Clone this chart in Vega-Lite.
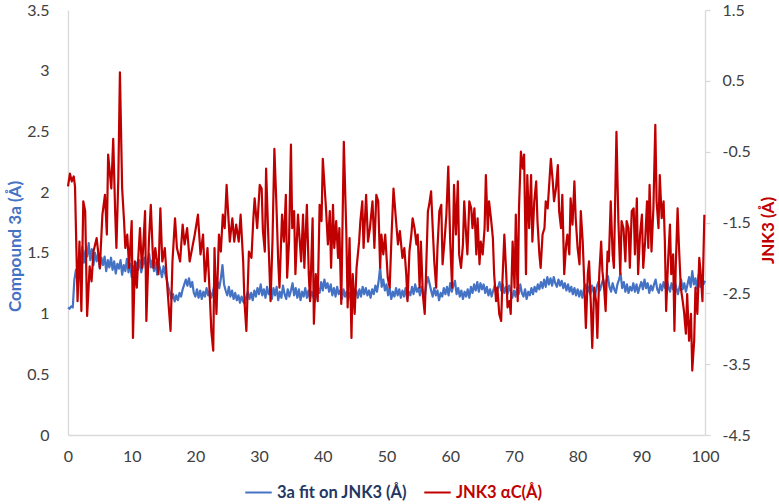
{
  "$schema": "https://vega.github.io/schema/vega-lite/v6.json",
  "width": 637,
  "height": 425,
  "autosize": {"type": "none"},
  "padding": {"left": 68, "top": 10, "right": 74, "bottom": 69},
  "background": "white",
  "config": {
    "view": {"stroke": null},
    "font": "Lato",
    "axis": {"grid": false, "domainColor": "#D9D9D9", "domainWidth": 1.3, "labelColor": "#404040", "labelFontSize": 16, "labelFont": "Lato", "titleFont": "Lato", "ticks": false}
  },
  "datasets": {
    "blue": [
      {"t":0,"v":1.05},{"t":0.25,"v":1.04},{"t":0.5,"v":1.06},{"t":0.75,"v":1.05},
      {"t":1,"v":1.28},{"t":1.25,"v":1.36},{"t":1.5,"v":1.26},{"t":1.75,"v":1.4},
      {"t":2,"v":1.46},{"t":2.25,"v":1.55},{"t":2.5,"v":1.42},{"t":2.75,"v":1.52},
      {"t":3,"v":1.47},{"t":3.25,"v":1.58},{"t":3.5,"v":1.44},{"t":3.75,"v":1.53},
      {"t":4,"v":1.4},{"t":4.25,"v":1.5},{"t":4.5,"v":1.43},{"t":4.75,"v":1.49},
      {"t":5,"v":1.37},{"t":5.25,"v":1.46},{"t":5.5,"v":1.4},{"t":5.75,"v":1.47},
      {"t":6,"v":1.35},{"t":6.25,"v":1.44},{"t":6.5,"v":1.38},{"t":6.75,"v":1.46},
      {"t":7,"v":1.36},{"t":7.25,"v":1.43},{"t":7.5,"v":1.33},{"t":7.75,"v":1.41},
      {"t":8,"v":1.37},{"t":8.25,"v":1.44},{"t":8.5,"v":1.32},{"t":8.75,"v":1.4},
      {"t":9,"v":1.35},{"t":9.25,"v":1.45},{"t":9.5,"v":1.34},{"t":9.75,"v":1.41},
      {"t":10,"v":1.3},{"t":10.25,"v":1.39},{"t":10.5,"v":1.33},{"t":10.75,"v":1.42},
      {"t":11,"v":1.36},{"t":11.25,"v":1.44},{"t":11.5,"v":1.34},{"t":11.75,"v":1.4},
      {"t":12,"v":1.46},{"t":12.25,"v":1.37},{"t":12.5,"v":1.43},{"t":12.75,"v":1.49},
      {"t":13,"v":1.38},{"t":13.25,"v":1.44},{"t":13.5,"v":1.35},{"t":13.75,"v":1.42},
      {"t":14,"v":1.32},{"t":14.25,"v":1.41},{"t":14.5,"v":1.36},{"t":14.75,"v":1.3},
      {"t":15,"v":1.39},{"t":15.25,"v":1.33},{"t":15.5,"v":1.28},{"t":15.75,"v":1.22},
      {"t":16,"v":1.17},{"t":16.25,"v":1.12},{"t":16.5,"v":1.16},{"t":16.75,"v":1.1},
      {"t":17,"v":1.15},{"t":17.25,"v":1.11},{"t":17.5,"v":1.17},{"t":17.75,"v":1.14},
      {"t":18,"v":1.2},{"t":18.25,"v":1.24},{"t":18.5,"v":1.28},{"t":18.75,"v":1.23},
      {"t":19,"v":1.29},{"t":19.25,"v":1.22},{"t":19.5,"v":1.26},{"t":19.75,"v":1.17},
      {"t":20,"v":1.14},{"t":20.25,"v":1.2},{"t":20.5,"v":1.13},{"t":20.75,"v":1.19},
      {"t":21,"v":1.12},{"t":21.25,"v":1.18},{"t":21.5,"v":1.14},{"t":21.75,"v":1.21},
      {"t":22,"v":1.15},{"t":22.25,"v":1.19},{"t":22.5,"v":1.13},{"t":22.75,"v":1.18},
      {"t":23,"v":1.24},{"t":23.25,"v":1.19},{"t":23.5,"v":1.26},{"t":23.75,"v":1.21},
      {"t":24,"v":1.29},{"t":24.25,"v":1.4},{"t":24.5,"v":1.24},{"t":24.75,"v":1.19},
      {"t":25,"v":1.15},{"t":25.25,"v":1.22},{"t":25.5,"v":1.14},{"t":25.75,"v":1.19},
      {"t":26,"v":1.12},{"t":26.25,"v":1.17},{"t":26.5,"v":1.11},{"t":26.75,"v":1.15},
      {"t":27,"v":1.09},{"t":27.25,"v":1.14},{"t":27.5,"v":1.1},{"t":27.75,"v":1.08},
      {"t":28,"v":1.14},{"t":28.25,"v":1.18},{"t":28.5,"v":1.12},{"t":28.75,"v":1.17},
      {"t":29,"v":1.11},{"t":29.25,"v":1.19},{"t":29.5,"v":1.14},{"t":29.75,"v":1.21},
      {"t":30,"v":1.16},{"t":30.25,"v":1.24},{"t":30.5,"v":1.15},{"t":30.75,"v":1.2},
      {"t":31,"v":1.13},{"t":31.25,"v":1.22},{"t":31.5,"v":1.16},{"t":31.75,"v":1.19},
      {"t":32,"v":1.12},{"t":32.25,"v":1.21},{"t":32.5,"v":1.15},{"t":32.75,"v":1.22},
      {"t":33,"v":1.11},{"t":33.25,"v":1.18},{"t":33.5,"v":1.13},{"t":33.75,"v":1.23},
      {"t":34,"v":1.16},{"t":34.25,"v":1.12},{"t":34.5,"v":1.2},{"t":34.75,"v":1.14},
      {"t":35,"v":1.19},{"t":35.25,"v":1.25},{"t":35.5,"v":1.15},{"t":35.75,"v":1.21},
      {"t":36,"v":1.13},{"t":36.25,"v":1.2},{"t":36.5,"v":1.11},{"t":36.75,"v":1.18},
      {"t":37,"v":1.14},{"t":37.25,"v":1.21},{"t":37.5,"v":1.13},{"t":37.75,"v":1.19},
      {"t":38,"v":1.12},{"t":38.25,"v":1.18},{"t":38.5,"v":1.14},{"t":38.75,"v":1.1},
      {"t":39,"v":1.16},{"t":39.25,"v":1.21},{"t":39.5,"v":1.17},{"t":39.75,"v":1.26},
      {"t":40,"v":1.19},{"t":40.25,"v":1.28},{"t":40.5,"v":1.21},{"t":40.75,"v":1.25},
      {"t":41,"v":1.18},{"t":41.25,"v":1.24},{"t":41.5,"v":1.15},{"t":41.75,"v":1.21},
      {"t":42,"v":1.14},{"t":42.25,"v":1.22},{"t":42.5,"v":1.16},{"t":42.75,"v":1.19},
      {"t":43,"v":1.12},{"t":43.25,"v":1.2},{"t":43.5,"v":1.14},{"t":43.75,"v":1.18},
      {"t":44,"v":1.11},{"t":44.25,"v":1.17},{"t":44.5,"v":1.13},{"t":44.75,"v":1.21},
      {"t":45,"v":1.15},{"t":45.25,"v":1.19},{"t":45.5,"v":1.13},{"t":45.75,"v":1.2},
      {"t":46,"v":1.14},{"t":46.25,"v":1.22},{"t":46.5,"v":1.16},{"t":46.75,"v":1.21},
      {"t":47,"v":1.15},{"t":47.25,"v":1.19},{"t":47.5,"v":1.13},{"t":47.75,"v":1.2},
      {"t":48,"v":1.16},{"t":48.25,"v":1.23},{"t":48.5,"v":1.18},{"t":48.75,"v":1.26},
      {"t":49,"v":1.38},{"t":49.25,"v":1.22},{"t":49.5,"v":1.28},{"t":49.75,"v":1.19},
      {"t":50,"v":1.24},{"t":50.25,"v":1.15},{"t":50.5,"v":1.21},{"t":50.75,"v":1.12},
      {"t":51,"v":1.18},{"t":51.25,"v":1.14},{"t":51.5,"v":1.21},{"t":51.75,"v":1.15},
      {"t":52,"v":1.2},{"t":52.25,"v":1.13},{"t":52.5,"v":1.19},{"t":52.75,"v":1.14},
      {"t":53,"v":1.21},{"t":53.25,"v":1.12},{"t":53.5,"v":1.18},{"t":53.75,"v":1.15},
      {"t":54,"v":1.22},{"t":54.25,"v":1.16},{"t":54.5,"v":1.24},{"t":54.75,"v":1.18},
      {"t":55,"v":1.21},{"t":55.25,"v":1.15},{"t":55.5,"v":1.22},{"t":55.75,"v":1.17},
      {"t":56,"v":1.14},{"t":56.25,"v":1.24},{"t":56.5,"v":1.3},{"t":56.75,"v":1.25},
      {"t":57,"v":1.19},{"t":57.25,"v":1.14},{"t":57.5,"v":1.21},{"t":57.75,"v":1.15},
      {"t":58,"v":1.19},{"t":58.25,"v":1.11},{"t":58.5,"v":1.17},{"t":58.75,"v":1.14},
      {"t":59,"v":1.21},{"t":59.25,"v":1.16},{"t":59.5,"v":1.22},{"t":59.75,"v":1.15},
      {"t":60,"v":1.25},{"t":60.25,"v":1.18},{"t":60.5,"v":1.23},{"t":60.75,"v":1.27},
      {"t":61,"v":1.16},{"t":61.25,"v":1.21},{"t":61.5,"v":1.14},{"t":61.75,"v":1.19},
      {"t":62,"v":1.12},{"t":62.25,"v":1.18},{"t":62.5,"v":1.14},{"t":62.75,"v":1.2},
      {"t":63,"v":1.13},{"t":63.25,"v":1.22},{"t":63.5,"v":1.17},{"t":63.75,"v":1.24},
      {"t":64,"v":1.19},{"t":64.25,"v":1.26},{"t":64.5,"v":1.18},{"t":64.75,"v":1.25},
      {"t":65,"v":1.2},{"t":65.25,"v":1.24},{"t":65.5,"v":1.17},{"t":65.75,"v":1.22},
      {"t":66,"v":1.15},{"t":66.25,"v":1.2},{"t":66.5,"v":1.14},{"t":66.75,"v":1.19},
      {"t":67,"v":1.23},{"t":67.25,"v":1.16},{"t":67.5,"v":1.21},{"t":67.75,"v":1.26},
      {"t":68,"v":1.19},{"t":68.25,"v":1.24},{"t":68.5,"v":1.17},{"t":68.75,"v":1.22},
      {"t":69,"v":1.16},{"t":69.25,"v":1.23},{"t":69.5,"v":1.18},{"t":69.75,"v":1.13},
      {"t":70,"v":1.19},{"t":70.25,"v":1.14},{"t":70.5,"v":1.21},{"t":70.75,"v":1.16},
      {"t":71,"v":1.24},{"t":71.25,"v":1.17},{"t":71.5,"v":1.14},{"t":71.75,"v":1.2},
      {"t":72,"v":1.12},{"t":72.25,"v":1.18},{"t":72.5,"v":1.15},{"t":72.75,"v":1.21},
      {"t":73,"v":1.16},{"t":73.25,"v":1.22},{"t":73.5,"v":1.18},{"t":73.75,"v":1.24},
      {"t":74,"v":1.2},{"t":74.25,"v":1.26},{"t":74.5,"v":1.21},{"t":74.75,"v":1.28},
      {"t":75,"v":1.22},{"t":75.25,"v":1.3},{"t":75.5,"v":1.24},{"t":75.75,"v":1.29},
      {"t":76,"v":1.23},{"t":76.25,"v":1.3},{"t":76.5,"v":1.25},{"t":76.75,"v":1.22},
      {"t":77,"v":1.28},{"t":77.25,"v":1.23},{"t":77.5,"v":1.27},{"t":77.75,"v":1.21},
      {"t":78,"v":1.25},{"t":78.25,"v":1.19},{"t":78.5,"v":1.24},{"t":78.75,"v":1.18},
      {"t":79,"v":1.22},{"t":79.25,"v":1.16},{"t":79.5,"v":1.21},{"t":79.75,"v":1.15},
      {"t":80,"v":1.2},{"t":80.25,"v":1.14},{"t":80.5,"v":1.19},{"t":80.75,"v":1.13},
      {"t":81,"v":1.2},{"t":81.25,"v":1.24},{"t":81.5,"v":1.17},{"t":81.75,"v":1.22},
      {"t":82,"v":1.16},{"t":82.25,"v":1.23},{"t":82.5,"v":1.18},{"t":82.75,"v":1.15},
      {"t":83,"v":1.22},{"t":83.25,"v":1.26},{"t":83.5,"v":1.19},{"t":83.75,"v":1.24},
      {"t":84,"v":1.28},{"t":84.25,"v":1.21},{"t":84.5,"v":1.27},{"t":84.75,"v":1.31},
      {"t":85,"v":1.22},{"t":85.25,"v":1.18},{"t":85.5,"v":1.25},{"t":85.75,"v":1.2},
      {"t":86,"v":1.17},{"t":86.25,"v":1.24},{"t":86.5,"v":1.28},{"t":86.75,"v":1.33},
      {"t":87,"v":1.21},{"t":87.25,"v":1.26},{"t":87.5,"v":1.18},{"t":87.75,"v":1.24},
      {"t":88,"v":1.17},{"t":88.25,"v":1.22},{"t":88.5,"v":1.19},{"t":88.75,"v":1.25},
      {"t":89,"v":1.18},{"t":89.25,"v":1.24},{"t":89.5,"v":1.17},{"t":89.75,"v":1.22},
      {"t":90,"v":1.26},{"t":90.25,"v":1.2},{"t":90.5,"v":1.28},{"t":90.75,"v":1.21},
      {"t":91,"v":1.25},{"t":91.25,"v":1.17},{"t":91.5,"v":1.23},{"t":91.75,"v":1.19},
      {"t":92,"v":1.24},{"t":92.25,"v":1.28},{"t":92.5,"v":1.2},{"t":92.75,"v":1.17},
      {"t":93,"v":1.24},{"t":93.25,"v":1.19},{"t":93.5,"v":1.26},{"t":93.75,"v":1.21},
      {"t":94,"v":1.28},{"t":94.25,"v":1.22},{"t":94.5,"v":1.18},{"t":94.75,"v":1.25},
      {"t":95,"v":1.2},{"t":95.25,"v":1.27},{"t":95.5,"v":1.21},{"t":95.75,"v":1.16},
      {"t":96,"v":1.22},{"t":96.25,"v":1.28},{"t":96.5,"v":1.2},{"t":96.75,"v":1.25},
      {"t":97,"v":1.18},{"t":97.25,"v":1.24},{"t":97.5,"v":1.3},{"t":97.75,"v":1.22},
      {"t":98,"v":1.35},{"t":98.25,"v":1.24},{"t":98.5,"v":1.29},{"t":98.75,"v":1.2},
      {"t":99,"v":1.32},{"t":99.25,"v":1.22},{"t":99.5,"v":1.3},{"t":99.75,"v":1.24},
      {"t":100,"v":1.27}
    ],
    "red": [
      {"t":0,"v":-0.99},{"t":0.3,"v":-0.81},{"t":0.6,"v":-0.92},{"t":0.9,"v":-0.85},{"t":1.1,"v":-0.99},{"t":1.5,"v":-2.61},{"t":1.8,"v":-1.77},{"t":2.1,"v":-2.75},{"t":2.4,"v":-1.2},{"t":2.7,"v":-1.34},{"t":3.0,"v":-2.82},{"t":3.4,"v":-2.12},{"t":3.7,"v":-2.33},{"t":4.0,"v":-1.91},{"t":4.5,"v":-1.72},{"t":5.0,"v":-2.14},{"t":5.4,"v":-1.39},{"t":5.8,"v":-1.11},{"t":6.1,"v":-1.67},{"t":6.3,"v":-0.54},{"t":6.6,"v":-0.83},{"t":6.8,"v":-1.02},{"t":7.1,"v":-0.32},{"t":7.4,"v":-1.34},{"t":7.6,"v":-1.86},{"t":7.9,"v":-0.88},{"t":8.15,"v":0.62},{"t":8.5,"v":-1.02},{"t":8.8,"v":-1.48},{"t":9.0,"v":-1.86},{"t":9.3,"v":-1.67},{"t":9.6,"v":-2.14},{"t":10.0,"v":-1.48},{"t":10.2,"v":-3.13},{"t":10.5,"v":-2.05},{"t":10.8,"v":-2.42},{"t":11.0,"v":-2.05},{"t":11.3,"v":-1.58},{"t":11.6,"v":-2.14},{"t":11.8,"v":-1.86},{"t":12.1,"v":-1.34},{"t":12.3,"v":-2.89},{"t":12.7,"v":-1.77},{"t":13.0,"v":-1.25},{"t":13.4,"v":-2.14},{"t":13.7,"v":-1.86},{"t":14.2,"v":-2.23},{"t":14.5,"v":-1.3},{"t":14.8,"v":-2.05},{"t":15.2,"v":-1.86},{"t":15.6,"v":-2.42},{"t":15.9,"v":-2.79},{"t":16.1,"v":-3.03},{"t":16.4,"v":-2.05},{"t":16.8,"v":-1.44},{"t":17.1,"v":-1.86},{"t":17.6,"v":-2.05},{"t":18.0,"v":-1.53},{"t":18.3,"v":-1.81},{"t":18.7,"v":-1.58},{"t":19.1,"v":-2.05},{"t":19.5,"v":-1.86},{"t":19.9,"v":-1.67},{"t":20.4,"v":-1.39},{"t":20.8,"v":-1.95},{"t":21.2,"v":-1.67},{"t":21.5,"v":-2.33},{"t":21.9,"v":-1.86},{"t":22.3,"v":-2.61},{"t":22.5,"v":-3.03},{"t":22.8,"v":-3.31},{"t":23.0,"v":-1.86},{"t":23.3,"v":-2.79},{"t":23.7,"v":-1.67},{"t":24.0,"v":-1.91},{"t":24.3,"v":-1.39},{"t":24.6,"v":-1.58},{"t":24.9,"v":-0.97},{"t":25.1,"v":-1.3},{"t":25.4,"v":-1.77},{"t":25.8,"v":-1.44},{"t":26.1,"v":-1.77},{"t":26.4,"v":-1.53},{"t":26.8,"v":-1.77},{"t":27.1,"v":-1.39},{"t":27.5,"v":-2.05},{"t":27.7,"v":-2.61},{"t":28.0,"v":-3.03},{"t":28.4,"v":-1.91},{"t":28.8,"v":-2.0},{"t":29.1,"v":-1.44},{"t":29.3,"v":-1.16},{"t":29.7,"v":-1.58},{"t":30.1,"v":-0.97},{"t":30.4,"v":-1.02},{"t":30.6,"v":-1.62},{"t":30.9,"v":-1.91},{"t":31.1,"v":-0.74},{"t":31.4,"v":-1.58},{"t":31.8,"v":-2.61},{"t":32.1,"v":-1.77},{"t":32.4,"v":-0.46},{"t":32.7,"v":-1.2},{"t":33.0,"v":-2.05},{"t":33.2,"v":-2.42},{"t":33.6,"v":-1.39},{"t":33.9,"v":-1.77},{"t":34.2,"v":-1.11},{"t":34.4,"v":-2.28},{"t":34.7,"v":-1.77},{"t":35.0,"v":-0.4},{"t":35.2,"v":-1.58},{"t":35.5,"v":-1.34},{"t":35.7,"v":-2.23},{"t":36.1,"v":-1.39},{"t":36.6,"v":-2.05},{"t":36.9,"v":-1.39},{"t":37.1,"v":-2.14},{"t":37.5,"v":-1.25},{"t":37.8,"v":-2.23},{"t":38.0,"v":-2.61},{"t":38.4,"v":-1.44},{"t":38.6,"v":-2.93},{"t":38.9,"v":-2.23},{"t":39.2,"v":-2.61},{"t":39.5,"v":-1.25},{"t":39.8,"v":-1.48},{"t":40.0,"v":-0.6},{"t":40.3,"v":-1.02},{"t":40.5,"v":-1.3},{"t":40.8,"v":-1.81},{"t":41.1,"v":-1.34},{"t":41.3,"v":-2.14},{"t":41.6,"v":-1.25},{"t":41.8,"v":-1.86},{"t":42.1,"v":-1.48},{"t":42.4,"v":-2.0},{"t":42.6,"v":-1.58},{"t":42.9,"v":-2.65},{"t":43.3,"v":-0.36},{"t":43.7,"v":-1.67},{"t":43.9,"v":-2.7},{"t":44.2,"v":-1.72},{"t":44.5,"v":-3.13},{"t":44.7,"v":-2.23},{"t":45.0,"v":-2.79},{"t":45.3,"v":-2.14},{"t":45.7,"v":-1.77},{"t":45.9,"v":-1.48},{"t":46.2,"v":-1.2},{"t":46.4,"v":-1.86},{"t":46.8,"v":-1.11},{"t":47.1,"v":-1.77},{"t":47.4,"v":-1.58},{"t":47.8,"v":-1.2},{"t":48.1,"v":-1.86},{"t":48.4,"v":-1.11},{"t":48.7,"v":-1.2},{"t":49.0,"v":-2.14},{"t":49.2,"v":-1.67},{"t":49.5,"v":-1.95},{"t":49.8,"v":-1.67},{"t":50.2,"v":-2.28},{"t":50.5,"v":-2.42},{"t":50.8,"v":-1.67},{"t":51.1,"v":-1.02},{"t":51.5,"v":-1.48},{"t":51.8,"v":-1.81},{"t":52.1,"v":-1.62},{"t":52.5,"v":-2.0},{"t":52.8,"v":-1.86},{"t":53.1,"v":-2.23},{"t":53.3,"v":-2.61},{"t":53.6,"v":-1.91},{"t":53.9,"v":-1.67},{"t":54.1,"v":-1.44},{"t":54.4,"v":-1.58},{"t":54.7,"v":-1.81},{"t":54.9,"v":-1.67},{"t":55.2,"v":-2.42},{"t":55.4,"v":-1.77},{"t":55.7,"v":-2.51},{"t":56.0,"v":-2.79},{"t":56.2,"v":-2.23},{"t":56.5,"v":-1.34},{"t":56.7,"v":-1.25},{"t":57.0,"v":-1.06},{"t":57.3,"v":-1.67},{"t":57.5,"v":-2.05},{"t":57.8,"v":-2.42},{"t":58.0,"v":-1.86},{"t":58.3,"v":-1.34},{"t":58.6,"v":-1.25},{"t":58.8,"v":-2.09},{"t":59.1,"v":-1.77},{"t":59.4,"v":-1.39},{"t":59.7,"v":-0.71},{"t":60.0,"v":-1.77},{"t":60.3,"v":-2.42},{"t":60.6,"v":-0.97},{"t":60.9,"v":-1.67},{"t":61.2,"v":-0.92},{"t":61.4,"v":-1.95},{"t":61.7,"v":-2.14},{"t":62.0,"v":-1.81},{"t":62.2,"v":-1.2},{"t":62.5,"v":-1.67},{"t":62.7,"v":-1.95},{"t":63.0,"v":-1.2},{"t":63.3,"v":-1.3},{"t":63.5,"v":-1.58},{"t":63.8,"v":-1.3},{"t":64.1,"v":-1.95},{"t":64.3,"v":-1.44},{"t":64.6,"v":-2.09},{"t":64.8,"v":-1.77},{"t":65.1,"v":-1.95},{"t":65.4,"v":-1.58},{"t":65.6,"v":-0.83},{"t":65.9,"v":-1.62},{"t":66.1,"v":-1.2},{"t":66.4,"v":-1.44},{"t":66.7,"v":-1.72},{"t":66.9,"v":-2.23},{"t":67.2,"v":-2.61},{"t":67.4,"v":-2.42},{"t":67.7,"v":-2.79},{"t":68.0,"v":-2.89},{"t":68.2,"v":-2.33},{"t":68.5,"v":-1.67},{"t":68.8,"v":-2.23},{"t":69.0,"v":-2.7},{"t":69.3,"v":-2.61},{"t":69.5,"v":-2.79},{"t":69.8,"v":-1.77},{"t":70.1,"v":-2.42},{"t":70.3,"v":-1.39},{"t":70.6,"v":-2.61},{"t":70.8,"v":-1.3},{"t":71.1,"v":-0.5},{"t":71.4,"v":-0.74},{"t":71.6,"v":-0.54},{"t":71.9,"v":-2.23},{"t":72.1,"v":-0.83},{"t":72.4,"v":-1.58},{"t":72.7,"v":-0.83},{"t":72.9,"v":-1.77},{"t":73.2,"v":-1.2},{"t":73.5,"v":-0.92},{"t":73.7,"v":-1.48},{"t":74.0,"v":-1.95},{"t":74.2,"v":-2.14},{"t":74.5,"v":-1.67},{"t":74.8,"v":-1.58},{"t":75.0,"v":-1.2},{"t":75.3,"v":-1.3},{"t":75.5,"v":-1.02},{"t":75.8,"v":-0.6},{"t":76.1,"v":-0.92},{"t":76.3,"v":-1.2},{"t":76.6,"v":-1.02},{"t":76.9,"v":-0.69},{"t":77.1,"v":-1.34},{"t":77.4,"v":-1.58},{"t":77.6,"v":-1.11},{"t":77.9,"v":-2.23},{"t":78.2,"v":-1.81},{"t":78.4,"v":-1.67},{"t":78.7,"v":-1.95},{"t":78.9,"v":-1.16},{"t":79.2,"v":-1.53},{"t":79.5,"v":-0.92},{"t":79.7,"v":-1.44},{"t":80.0,"v":-1.86},{"t":80.3,"v":-2.09},{"t":80.5,"v":-1.34},{"t":80.8,"v":-1.77},{"t":81.0,"v":-2.23},{"t":81.3,"v":-2.99},{"t":81.6,"v":-2.23},{"t":81.8,"v":-2.05},{"t":82.1,"v":-2.7},{"t":82.3,"v":-3.27},{"t":82.6,"v":-2.42},{"t":82.9,"v":-2.61},{"t":83.1,"v":-3.13},{"t":83.4,"v":-2.23},{"t":83.7,"v":-1.77},{"t":83.9,"v":-2.19},{"t":84.2,"v":-2.47},{"t":84.4,"v":-2.75},{"t":84.7,"v":-1.91},{"t":84.9,"v":-2.05},{"t":85.2,"v":-1.2},{"t":85.5,"v":-1.95},{"t":85.7,"v":-2.14},{"t":86.1,"v":-0.22},{"t":86.4,"v":-1.48},{"t":86.7,"v":-2.23},{"t":86.9,"v":-1.48},{"t":87.2,"v":-1.58},{"t":87.5,"v":-2.05},{"t":87.7,"v":-1.48},{"t":88.0,"v":-1.58},{"t":88.2,"v":-2.14},{"t":88.5,"v":-1.34},{"t":88.8,"v":-1.3},{"t":89.0,"v":-1.95},{"t":89.3,"v":-1.16},{"t":89.5,"v":-2.23},{"t":89.8,"v":-1.67},{"t":90.1,"v":-1.39},{"t":90.3,"v":-2.14},{"t":90.6,"v":-1.77},{"t":90.9,"v":-1.2},{"t":91.1,"v":-1.86},{"t":91.3,"v":-0.97},{"t":91.6,"v":-1.91},{"t":91.9,"v":-1.3},{"t":92.2,"v":-0.12},{"t":92.4,"v":-1.2},{"t":92.7,"v":-1.58},{"t":92.9,"v":-0.83},{"t":93.2,"v":-1.44},{"t":93.5,"v":-1.2},{"t":93.7,"v":-1.77},{"t":93.9,"v":-2.75},{"t":94.2,"v":-2.05},{"t":94.5,"v":-1.53},{"t":94.7,"v":-2.23},{"t":95.0,"v":-1.95},{"t":95.2,"v":-3.03},{"t":95.4,"v":-2.14},{"t":95.7,"v":-1.3},{"t":95.9,"v":-1.81},{"t":96.2,"v":-2.42},{"t":96.5,"v":-2.61},{"t":96.7,"v":-2.75},{"t":97.0,"v":-3.07},{"t":97.2,"v":-2.51},{"t":97.5,"v":-3.17},{"t":97.8,"v":-2.79},{"t":98.0,"v":-3.59},{"t":98.3,"v":-3.17},{"t":98.5,"v":-2.42},{"t":98.8,"v":-2.79},{"t":99.1,"v":-2.0},{"t":99.3,"v":-2.19},{"t":99.6,"v":-2.61},{"t":99.9,"v":-1.39}
    ]
  },
  "encoding": {
    "x": {
      "field": "t", "type": "quantitative",
      "scale": {"domain": [0, 100], "nice": false},
      "axis": {"values": [0,10,20,30,40,50,60,70,80,90,100], "labelExpr": "'' + datum.value", "title": null, "labelPadding": 13, "labelFlush": false}
    }
  },
  "layer": [
    {
      "data": {"name": "blue"},
      "mark": {"type": "line", "strokeWidth": 2.2, "strokeJoin": "round"},
      "encoding": {
        "y": {
          "field": "v", "type": "quantitative",
          "scale": {"domain": [0, 3.5], "nice": false, "zero": false},
          "axis": {"orient": "left", "values": [0,0.5,1,1.5,2,2.5,3,3.5], "labelExpr": "'' + datum.value", "labelPadding": 19, "labelFlush": false, "title": "Compound 3a (Å)", "titleColor": "#4472C4", "titleFontSize": 17, "titleFontWeight": "bold", "titleX": -53, "titleY": 236, "titleAngle": -90, "titleAlign": "center", "titleBaseline": "middle"}
        },
        "color": {
          "datum": "3a fit on JNK3 (Å)",
          "scale": {"domain": ["3a fit on JNK3 (Å)", "JNK3 αC(Å)"], "range": ["#4472C4", "#C00000"]},
          "legend": {
            "title": null, "orient": "none", "direction": "horizontal", "legendX": 176, "legendY": 468,
            "symbolType": "stroke", "symbolStrokeWidth": 2, "symbolSize": 700,
            "labelFontSize": 16.5, "labelFontWeight": "bold", "labelFont": "Lato",
            "labelColor": {"expr": "datum.value == 'JNK3 αC(Å)' ? '#C00000' : '#1F3864'"},
            "columnPadding": 12, "labelOffset": 4
          }
        }
      }
    },
    {
      "data": {"name": "red"},
      "mark": {"type": "line", "strokeWidth": 2.2, "strokeJoin": "round"},
      "encoding": {
        "y": {
          "field": "v", "type": "quantitative",
          "scale": {"domain": [-4.5, 1.5], "nice": false, "zero": false},
          "axis": {"orient": "right", "values": [-4.5,-3.5,-2.5,-1.5,-0.5,0.5,1.5], "labelExpr": "'' + datum.value", "ticks": true, "tickSize": 5, "tickColor": "#D9D9D9", "tickWidth": 1.3, "labelPadding": 12, "labelFlush": false, "title": "JNK3 (Å)", "titleColor": "#C00000", "titleFontSize": 17, "titleFontWeight": "bold", "titleX": 63, "titleY": 220, "titleAngle": -90, "titleAlign": "center", "titleBaseline": "middle"}
        },
        "color": {"datum": "JNK3 αC(Å)"}
      }
    }
  ],
  "resolve": {"scale": {"y": "independent"}}
}
